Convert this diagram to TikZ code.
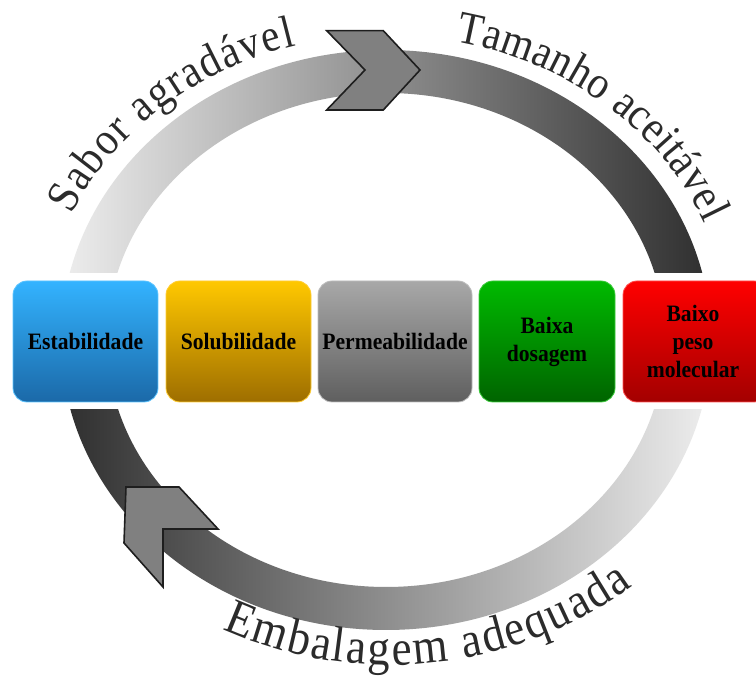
\documentclass[tikz,border=0pt]{standalone}
\usepackage{fontspec}
\setmainfont{Liberation Serif}
\newfontfamily\boxfam{Liberation Serif}[FakeStretch=0.92]
\newfontfamily\lblfam{Liberation Serif}[FakeStretch=0.9]
\usetikzlibrary{decorations.text}
\definecolor{ringlight}{HTML}{EEEEEE}
\definecolor{ringdark}{HTML}{2E2E2E}
\definecolor{chevfill}{HTML}{808080}
\definecolor{chevedge}{HTML}{1E1E1E}
\definecolor{lblc}{HTML}{2B2B2B}
\definecolor{bluetop}{HTML}{33B3FF}
\definecolor{bluebot}{HTML}{1B69A8}
\definecolor{blueedge}{HTML}{5CC4FF}
\definecolor{orgtop}{HTML}{FFC800}
\definecolor{orgbot}{HTML}{9E6E00}
\definecolor{orgedge}{HTML}{FFCC33}
\definecolor{grytop}{HTML}{A8A8A8}
\definecolor{grybot}{HTML}{5F5F5F}
\definecolor{gryedge}{HTML}{BDBDBD}
\definecolor{grntop}{HTML}{00BA00}
\definecolor{grnbot}{HTML}{006400}
\definecolor{grnedge}{HTML}{3DCC3D}
\definecolor{redtop}{HTML}{FF0000}
\definecolor{redbot}{HTML}{A30000}
\definecolor{rededge}{HTML}{FF5050}
\newcommand\boxfont{\boxfam\bfseries\fontsize{23.5}{28}\selectfont}
\newcommand\lblfont{\lblfam\fontsize{46}{46}\selectfont}
\newcommand\lblfontb{\lblfam\fontsize{50}{50}\selectfont}
\tikzset{
  box/.style={rounded corners=14pt, minimum height=121pt, inner sep=0pt,
    align=center, font=\boxfont, line width=0.8pt, text=black},
  chev/.style={fill=chevfill, draw=chevedge, line width=1.6pt, line join=miter},
  ringpart/.style={even odd rule},
}
\begin{document}
\begin{tikzpicture}[x=1pt,y=1pt]
\useasboundingbox (0,0) rectangle (756,684);
\clip (0,0) rectangle (756,684);
\fill[white] (0,0) rectangle (756,684);
% upper half of ring
\begin{scope}
  \clip (0,411) rectangle (756,684);
  \shade[ringpart, left color=ringlight, right color=ringdark]
    (386,344) ellipse [x radius=325, y radius=290]
    (386,344) ellipse [x radius=279, y radius=247];
\end{scope}
% lower half of ring
\begin{scope}
  \clip (0,0) rectangle (756,274);
  \shade[ringpart, left color=ringdark, right color=ringlight]
    (386,344) ellipse [x radius=325, y radius=290]
    (386,344) ellipse [x radius=279, y radius=247];
\end{scope}
% chevrons
\draw[chev] (326.7,653.3) -- (383.3,653.3) -- (420,614) -- (383.3,574) -- (326.7,574) -- (365,614) -- cycle;
\draw[chev] (126,197) -- (179,197) -- (218,155) -- (163,155) -- (163,97) -- (124,141) -- cycle;
% boxes
\node[box, minimum width=145pt, top color=bluetop, bottom color=bluebot, draw=blueedge] (estab) at (85.5,342.5) {Estabilidade};
\node[box, minimum width=145pt, top color=orgtop, bottom color=orgbot, draw=orgedge] (solub) at (238.5,342.5) {Solubilidade};
\node[box, minimum width=154pt, top color=grytop, bottom color=grybot, draw=gryedge] (perm) at (395,342.5) {Permeabilidade};
\node[box, minimum width=136pt, top color=grntop, bottom color=grnbot, draw=grnedge] (dose) at (547,342.5) {Baixa\\dosagem};
\node[box, minimum width=145pt, top color=redtop, bottom color=redbot, draw=rededge] (peso) at (695.5,342.5) {};
\node[font=\boxfont, align=center, inner sep=0pt] (pesotxt) at (693,342.5) {Baixo\\peso\\molecular};
% curved labels
\begin{scope}[shift={(386,344)}]
  \path[decorate, decoration={text along path, text={|\lblfont|Sabor agradável}, text color=lblc, text align={fit to path}}]
    (155.7:345 and 305) arc[start angle=155.7, end angle=105.1, x radius=345, y radius=305];
  \path[decorate, decoration={text along path, text={|\lblfont|Tamanho aceitável}, text color=lblc, text align={fit to path}}]
    (78.4:345 and 305) arc[start angle=78.4, end angle=22.5, x radius=345, y radius=305];
\end{scope}
\begin{scope}[shift={(390,430)}]
  \path[decorate, decoration={text along path, text={|\lblfontb|Embalagem adequada}, text color=lblc, text align={fit to path}}]
    (245.9:411) arc[start angle=245.9, end angle=306.2, radius=411];
\end{scope}
\end{tikzpicture}
\end{document}
